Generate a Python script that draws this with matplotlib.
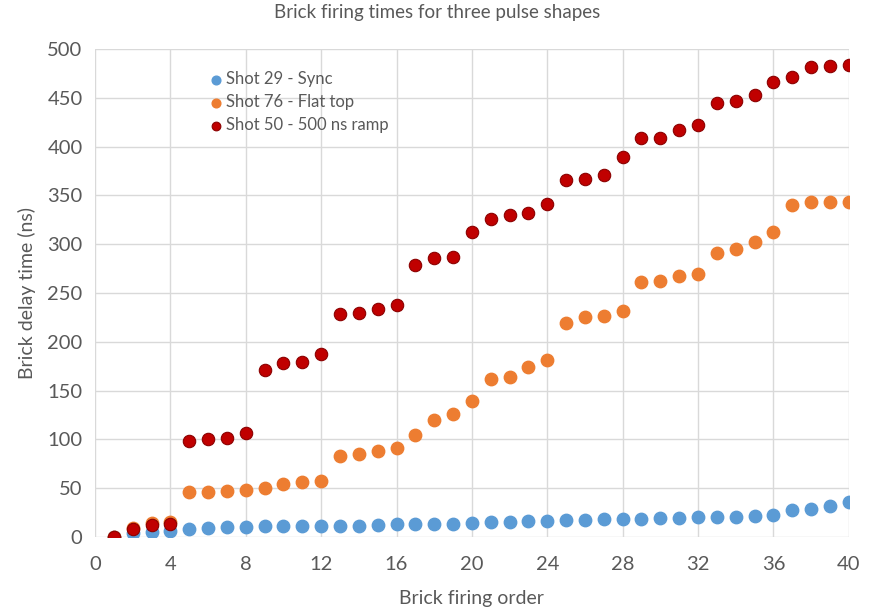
import numpy as np
import matplotlib.pyplot as plt

plt.rcParams['font.family'] = ['Lato', 'DejaVu Sans']

# Brick firing order and measured delays (ns) for each shot
order = list(range(1, 41))

sync_29 = [0, 4, 5, 6, 8, 9, 10, 10, 11, 11,
           11, 11, 11, 11, 12, 13, 13, 13, 13, 14,
           15, 15, 16, 16, 17, 17, 18, 18, 18, 19,
           19, 20, 20, 20, 22, 23, 28, 29, 32, 36]

flat_76 = [0, 9, 14, 15, 46, 46, 47, 48, 50, 54,
           56, 57, 83, 85, 88, 91, 104, 120, 126, 139,
           162, 164, 174, 181, 219, 225, 226, 232, 261, 262,
           267, 269, 291, 295, 302, 313, 340, 343, 343, 343]

ramp_50 = [0, 8, 12, 13, 98, 100, 101, 107, 171, 178,
           179, 188, 228, 230, 234, 238, 279, 286, 287, 312,
           326, 330, 332, 341, 366, 367, 371, 389, 409, 409,
           417, 422, 445, 447, 453, 466, 471, 482, 483, 484]

labels = ['Shot 29 - Sync', 'Shot 76 - Flat top', 'Shot 50 - 500 ns ramp']
txt = '#595959'

fig = plt.figure(figsize=(8.75, 6.14), dpi=100)
ax = fig.add_axes([0.1086, 0.1254, 0.8614, 0.7948])

ax.scatter(order, sync_29, s=80, color='#5B9BD5', label=labels[0], zorder=3)
ax.scatter(order, flat_76, s=80, color='#ED7D31', label=labels[1], zorder=4)
ax.scatter(order, ramp_50, s=80, color='#C00000', edgecolors='#8B0000',
           linewidths=0.8, label=labels[2], zorder=5)

ax.set_xlim(0, 40)
ax.set_ylim(0, 500)
ax.set_xticks(np.arange(0, 41, 4))
ax.set_yticks(np.arange(0, 501, 50))
ax.grid(True, color='#D9D9D9', linewidth=1)
ax.set_axisbelow(True)
for s in ax.spines.values():
    s.set_visible(False)
ax.tick_params(length=0, labelsize=14.5, colors=txt)
ax.tick_params(axis='x', pad=14)
ax.tick_params(axis='y', pad=9)

ax.set_xlabel('Brick firing order', fontsize=14, color=txt, labelpad=12)
ax.set_ylabel('Brick delay time (ns)', fontsize=14, color=txt, labelpad=8)
fig.suptitle('Brick firing times for three pulse shapes', fontsize=13.5,
             color=txt, y=0.993)

leg = ax.legend(loc='upper left', bbox_to_anchor=(0.118, 0.985), frameon=False,
                fontsize=12, handletextpad=-0.35, labelspacing=0.42,
                markerscale=0.7, labelcolor=txt)

fig.savefig('out.png', dpi=100)
